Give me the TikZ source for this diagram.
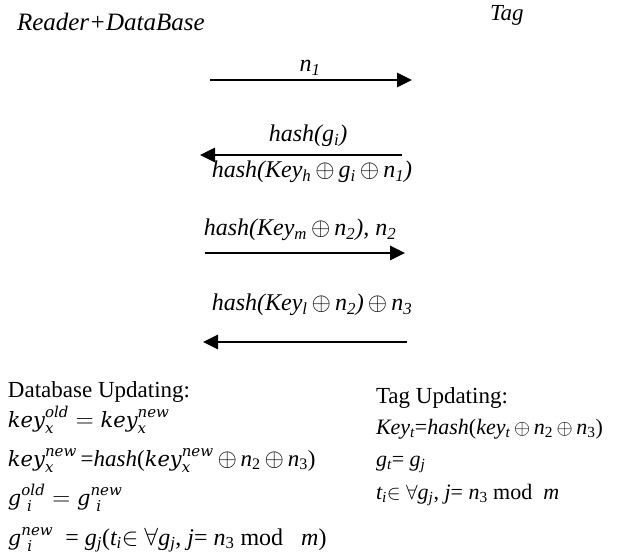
\documentclass[tikz,border=0pt]{standalone}
\usepackage{fontspec}
\setmainfont{Liberation Serif}
\newfontfamily\cmb{DejaVu Serif}
\usetikzlibrary{arrows.meta}
\newcommand{\xo}{\,$\oplus$\,}
\newcommand{\ck}[1]{\mbox{\fontsize{21}{24}\selectfont\cmb\itshape #1}}
\newcommand{\cs}[1]{\mbox{\fontsize{15}{17}\selectfont\cmb\itshape #1}}
\begin{document}
\begin{tikzpicture}[x=1pt,y=-1pt,
  txt/.style={inner sep=0pt,outer sep=0pt,font=\fontsize{23}{26}\selectfont},
  ilab/.style={txt,anchor=base,font=\fontsize{24}{28}\selectfont\itshape},
  lt/.style={txt,anchor=base west},
  msg/.style={line width=2.6pt,-{Triangle[length=15pt,width=14pt]}}]
\useasboundingbox (0,0) rectangle (619,556);
% headers
\node[lt,font=\fontsize{25}{28}\selectfont\itshape] (rd) at (17,31) {Reader+DataBase};
\node[lt,font=\fontsize{23}{26}\selectfont\itshape] (tg) at (490,21) {Tag};
% message 1
\coordinate (a1s) at (210,80); \coordinate (a1e) at (412,80);
\draw[msg] (a1s) -- (a1e);
\node[ilab] (l1) at (310,72) {n\textsubscript{1}};
% message 2
\coordinate (a2s) at (402,155); \coordinate (a2e) at (200,155);
\draw[msg] (a2s) -- (a2e);
\node[ilab] (l2a) at (308,142) {hash(g\textsubscript{i})};
\node[ilab] (l2b) at (312,178) {hash(Key\textsubscript{h}\xo g\textsubscript{i}\xo n\textsubscript{1})};
% message 3
\coordinate (a3s) at (205,253); \coordinate (a3e) at (405,253);
\draw[msg] (a3s) -- (a3e);
\node[ilab] (l3) at (300,236) {hash(Key\textsubscript{m}\xo n\textsubscript{2}), n\textsubscript{2}};
% message 4
\node[ilab] (l4) at (312,311) {hash(Key\textsubscript{l}\xo n\textsubscript{2})\xo n\textsubscript{3}};
\coordinate (a4s) at (407,342); \coordinate (a4e) at (203,342);
\draw[msg] (a4s) -- (a4e);
% database updating
\node[lt] (db0) at (8,397) {Database Updating:};
\node[lt] (db1) at (8,427) {$\ck{key}_{\cs{x}}^{\cs{old}} = \ck{key}_{\cs{x}}^{\cs{new}}$};
\node[lt] (db2) at (8,466) {$\ck{key}_{\cs{x}}^{\cs{new}}$\,=\textit{hash}($\ck{key}_{\cs{x}}^{\cs{new}}$\xo\textit{n}\textsubscript{2}\xo\textit{n}\textsubscript{3})};
\node[lt] (db3) at (8,505) {$\ck{g}^{\cs{old}}_{\ \cs{i}} = \ck{g}^{\cs{new}}_{\ \cs{i}}$};
\node[lt,font=\fontsize{24}{27}\selectfont] (db4) at (8,545) {$\ck{g}^{\cs{new}}_{\ \cs{i}}$\ \ = \textit{g\textsubscript{j}}(\textit{t\textsubscript{i}}$\in$\ $\forall$\textit{g\textsubscript{j}}, \textit{j}=\ \textit{n}\textsubscript{3} mod\ \ \ \textit{m})};
% tag updating
\node[lt] (tu0) at (376,403) {Tag Updating:};
\node[lt,font=\fontsize{22}{26}\selectfont] (tu1) at (376,434) {\textit{Key\textsubscript{t}}=\textit{hash}(\textit{key\textsubscript{t}}\xo\textit{n}\textsubscript{2}\xo\textit{n}\textsubscript{3})};
\node[lt,font=\fontsize{22}{26}\selectfont] (tu2) at (376,466) {\textit{g\textsubscript{t}}= \textit{g\textsubscript{j}}};
\node[lt,font=\fontsize{22}{26}\selectfont] (tu3) at (376,499) {\textit{t\textsubscript{i}}$\in$ $\forall$\textit{g\textsubscript{j}}, \textit{j}= \textit{n}\textsubscript{3} mod\ \ \textit{m}};
\end{tikzpicture}
\end{document}
